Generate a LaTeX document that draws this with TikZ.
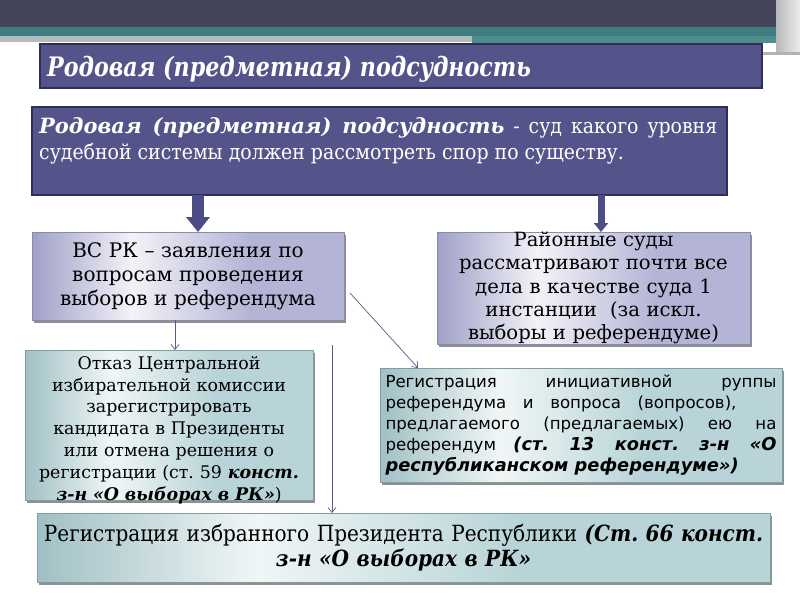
\documentclass[tikz,border=0pt]{standalone}
\usepackage{fontspec}
\setmainfont{DejaVu Serif}
\newfontfamily\dvsc{DejaVu Serif Condensed}
\newfontfamily\titlefont[FakeStretch=0.92]{DejaVu Serif Condensed}
\newfontfamily\dvsans{DejaVu Sans}
\usetikzlibrary{arrows.meta,shadows}
\definecolor{dark}{HTML}{43435A}
\definecolor{teal1}{HTML}{3F7E80}
\definecolor{teal2}{HTML}{4F8C8E}
\definecolor{greyband}{HTML}{B4BCBE}
\definecolor{slate}{HTML}{54548A}
\definecolor{bord}{HTML}{2E2E58}
\definecolor{lavL}{HTML}{A0A0C8}
\definecolor{lavW}{HTML}{F2F2F8}
\definecolor{lavR}{HTML}{B4B4D6}
\definecolor{lavB}{HTML}{8A8AAE}
\definecolor{tealL}{HTML}{A0C0C5}
\definecolor{tealW}{HTML}{F0F6F6}
\definecolor{tealR}{HTML}{B8D4D8}
\definecolor{tealB}{HTML}{7E9EA4}
\definecolor{lineC}{HTML}{5A5A8C}
\definecolor{arrC}{HTML}{4C4C86}
\pgfdeclarehorizontalshading{lavshade}{100bp}{color(0bp)=(lavL); color(25bp)=(lavL); color(41bp)=(lavW); color(60bp)=(lavR); color(100bp)=(lavR)}
\pgfdeclarehorizontalshading{tealshade}{100bp}{color(0bp)=(tealL); color(25bp)=(tealL); color(40bp)=(tealW); color(58bp)=(tealR); color(100bp)=(tealR)}
\frenchspacing
\begin{document}
\begin{tikzpicture}[x=1pt,y=-1pt,
  bluebox/.style={draw=bord, line width=1.5pt, fill=slate, rectangle, inner sep=0pt, outer sep=0pt, anchor=north west},
  shadowed/.style={drop shadow={shadow xshift=2pt,shadow yshift=-3pt,fill=black!55,opacity=0.8}},
  lavbox/.style={draw=lavB, line width=0.6pt, shading=lavshade, anchor=north west, inner sep=0pt, outer sep=0pt, align=center, shadowed},
  tealbox/.style={draw=tealB, line width=0.6pt, shading=tealshade, anchor=north west, inner sep=0pt, outer sep=0pt, shadowed},
  thinarrow/.style={draw=lineC, line width=0.7pt, -{Straight Barb[length=5pt,width=8pt]}},
  bigarrow/.style={draw=arrC, line width=12pt, -{Triangle[width=23pt,length=15pt]}},
  smallarrow/.style={draw=arrC, line width=7pt, -{Triangle[width=14pt,length=9pt]}}
]
\useasboundingbox (0,0) rectangle (800,600);
% top band
\fill[dark] (0,0) rectangle (800,27);
\fill[teal1] (0,27) rectangle (800,36);
\fill[greyband] (0,36) rectangle (472,42);
\fill[teal2] (472,36) rectangle (776,43);
\shade[left color=gray!55, right color=gray!15] (776,0) rectangle (800,52);
\fill[gray!60] (762,52) rectangle (800,55);

% title
\node[bluebox, minimum width=722pt, minimum height=44pt] (title) at (40,44) {};
\node[anchor=base west, inner sep=0pt, text=white, font=\titlefont\bfseries\itshape\fontsize{26.8}{30}\selectfont] (titletxt) at (47,76) {Родовая (предметная) подсудность};

% definition
\node[bluebox, minimum width=695pt, minimum height=88pt] (def) at (32,107) {};
\node[anchor=north west, inner sep=0pt, text=white, text width=678pt, align=justify, font=\dvsc\fontsize{21}{26}\selectfont] (deftxt) at (39,117) {{\rmfamily\bfseries\itshape Родовая (предметная) подсудность} - суд какого уровня\linebreak судебной системы должен рассмотреть спор по существу.};

% second level
\node[lavbox, minimum width=312pt, minimum height=88pt, text width=306pt, font=\fontsize{20}{24}\selectfont] (vs) at (32,232) {ВС РК – заявления по\\ вопросам проведения\\ выборов и референдума};
\node[lavbox, minimum width=313pt, minimum height=106pt, text width=309pt, font=\fontsize{19.6}{23.3}\selectfont] (ray) at (437,232) {Районные суды\\ рассматривают почти все\\ дела в качестве суда 1\\ инстанции\ \ (за искл.\\ выборы и референдуме)};

% third level
\node[tealbox, minimum width=288pt, minimum height=150pt] (otkaz) at (25,350) {};
\node[align=center, inner sep=0pt, text width=292pt, font=\fontsize{17.4}{21.8}\selectfont] (otkaztxt) at ([yshift=-5pt]otkaz.center) {Отказ Центральной\\ избирательной комиссии\\ зарегистрировать\\ кандидата в Президенты\\ или отмена решения о\\ регистрации (ст.~59 \textbf{\textit{конст.}}\\ \textbf{\textit{з-н «О выборах в РК»}})};
\node[tealbox, align=justify, minimum width=402pt, minimum height=114pt, text width=391pt, font=\dvsans\fontsize{16.6}{21}\selectfont] (reg) at (380,368) {Регистрация инициативной руппы\linebreak референдума и вопроса (вопросов),\hspace*{40pt}\linebreak предлагаемого (предлагаемых) ею на\linebreak референдум {\fontsize{17.8}{21}\selectfont\bfseries\itshape (ст. 13 конст. з-н «О\linebreak республиканском референдуме»)}};

% bottom
\node[tealbox, align=center, minimum width=733pt, minimum height=69pt, text width=729pt, font=\dvsc\fontsize{22.3}{25}\selectfont] (bot) at (37,513) {Регистрация избранного Президента Республики \textbf{\textit{(Ст. 66 конст.}}\\ \textbf{\textit{з-н «О выборах в РК»}}};

% block arrows
\coordinate (ax) at (198,0);
\coordinate (bx) at (601,0);
\draw[bigarrow] (ax |- def.south) -- (ax |- vs.north);
\draw[smallarrow] (bx |- def.south) -- (bx |- ray.north);

% thin connectors
\draw[thinarrow] ([xshift=-13pt]vs.south) -- ([xshift=-13pt]vs.south |- otkaz.north);
\coordinate (d1) at (350,293);
\draw[thinarrow] (d1) -- ([xshift=38pt]reg.north west);
\coordinate (v1) at (332,345);
\draw[thinarrow] (v1) -- (v1 |- bot.north);
\end{tikzpicture}
\end{document}
